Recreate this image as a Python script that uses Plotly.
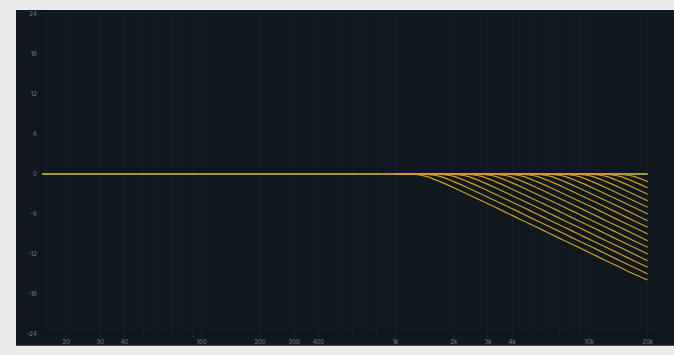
import plotly.graph_objects as go

# ---- data ----
FREQ_HZ = [1000, 1036, 1221, 1439, 1697, 2000, 2358, 2779, 3276, 3861, 4552,
           5365, 6325, 7455, 8788, 10359, 12211, 14394, 16967, 20000]

# one list per filter curve (gain in dB at FREQ_HZ), from shallowest to deepest
CURVES_DB = [
    [0, 0, 0, 0, 0, 0, 0, 0, 0, 0, 0, 0, 0, 0, 0, 0, 0, -0.04, -0.35, -1.15],
    [0, 0, 0, 0, 0, 0, 0, 0, 0, 0, 0, 0, 0, 0, 0, 0, -0.04, -0.35, -1.15, -2.07],
    [0, 0, 0, 0, 0, 0, 0, 0, 0, 0, 0, 0, 0, 0, 0, -0.04, -0.35, -1.15, -2.07, -3.03],
    [0, 0, 0, 0, 0, 0, 0, 0, 0, 0, 0, 0, 0, 0, -0.04, -0.35, -1.15, -2.07, -3.03, -4],
    [0, 0, 0, 0, 0, 0, 0, 0, 0, 0, 0, 0, 0, -0.04, -0.35, -1.15, -2.07, -3.03, -4, -5],
    [0, 0, 0, 0, 0, 0, 0, 0, 0, 0, 0, 0, -0.04, -0.35, -1.15, -2.07, -3.03, -4, -5, -6],
    [0, 0, 0, 0, 0, 0, 0, 0, 0, 0, 0, -0.04, -0.35, -1.15, -2.07, -3.03, -4, -5, -6, -7],
    [0, 0, 0, 0, 0, 0, 0, 0, 0, 0, -0.04, -0.35, -1.15, -2.07, -3.03, -4, -5, -6, -7, -8],
    [0, 0, 0, 0, 0, 0, 0, 0, 0, -0.04, -0.35, -1.15, -2.07, -3.03, -4, -5, -6, -7, -8, -9],
    [0, 0, 0, 0, 0, 0, 0, 0, -0.04, -0.35, -1.15, -2.07, -3.03, -4, -5, -6, -7, -8, -9, -10],
    [0, 0, 0, 0, 0, 0, 0, -0.04, -0.35, -1.15, -2.07, -3.03, -4, -5, -6, -7, -8, -9, -10, -11],
    [0, 0, 0, 0, 0, 0, -0.04, -0.35, -1.15, -2.07, -3.03, -4, -5, -6, -7, -8, -9, -10, -11, -12],
    [0, 0, 0, 0, 0, -0.04, -0.35, -1.15, -2.07, -3.03, -4, -5, -6, -7, -8, -9, -10, -11, -12, -13],
    [0, 0, 0, 0, -0.04, -0.35, -1.15, -2.07, -3.03, -4, -5, -6, -7, -8, -9, -10, -11, -12, -13, -14],
    [0, 0, 0, -0.04, -0.35, -1.15, -2.07, -3.03, -4, -5, -6, -7, -8, -9, -10, -11, -12, -13, -14, -15],
    [0, 0, 0, -0.35, -1.15, -2.07, -3.03, -4, -5, -6, -7, -8, -9, -10, -11, -12, -13, -14, -15, -15.9],
]

FLAT_FREQ_HZ = [15, 20000]
FLAT_DB = [0, 0]

X_TICK_VALS = [20, 30, 40, 100, 200, 300, 400, 1000, 2000, 3000, 4000, 10000, 20000]
X_TICK_TEXT = ["20", "30", "40", "100", "200", "300", "400", "1k", "2k", "3k", "4k", "10k", "20k"]
Y_TICK_VALS = [24, 18, 12, 6, 0, -6, -12, -18, -24]
Y_TICK_TEXT = ["24", "18", "12", "6", "0", "-6", "-12", "-18", "-24"]

# ---- styling ----
PANEL = "#10181f"
FLAT_COLOR = "#a09c2e"
CURVE_COLOR = "#d49d22"
LABEL_COLOR = "#767c84"
FONT = "Inter"

fig = go.Figure()

fig.add_trace(go.Scatter(
    x=FLAT_FREQ_HZ, y=FLAT_DB, mode="lines",
    line=dict(color=FLAT_COLOR, width=2), hoverinfo="skip", showlegend=False))

for vals in CURVES_DB:
    fig.add_trace(go.Scatter(
        x=FREQ_HZ, y=vals, mode="lines",
        line=dict(color=CURVE_COLOR, width=1.2, shape="spline", smoothing=0.8),
        hoverinfo="skip", showlegend=False))

W, H = 674, 355
ML, MR, MT, MB = 42, 11, 10, 17
pw, ph = W - ML - MR, H - MT - MB

def px_to_paper_x(px):
    return (px - ML) / pw

def px_to_paper_y(py):
    return (H - MB - py) / ph

fig.add_shape(type="rect", xref="paper", yref="paper",
              x0=px_to_paper_x(16), x1=px_to_paper_x(W + 2),
              y0=px_to_paper_y(350), y1=px_to_paper_y(6),
              fillcolor=PANEL, line=dict(width=0), layer="below")

fig.update_layout(
    width=W, height=H,
    margin=dict(l=ML, r=MR, t=MT, b=MB, pad=0),
    paper_bgcolor="#ebebeb",
    plot_bgcolor=PANEL,
    font=dict(family=FONT, size=6, color=LABEL_COLOR),
    showlegend=False,
)

fig.update_xaxes(
    type="log", range=[1.1761, 4.3802],
    tickvals=X_TICK_VALS, ticktext=X_TICK_TEXT,
    tickfont=dict(size=6, color=LABEL_COLOR, family=FONT),
    showgrid=True, gridcolor="#151e26", gridwidth=1,
    minor=dict(tickvals=[50, 60, 70, 80, 90, 500, 600, 700, 800, 900,
                         5000, 6000, 7000, 8000, 9000],
               showgrid=True, gridcolor="#141c24", gridwidth=1,
               ticks="outside", ticklen=2, tickcolor="#2a333c"),
    ticks="outside", ticklen=2, tickcolor="#2a333c",
    showline=True, linecolor="#0a0f14", linewidth=1,
    zeroline=False, fixedrange=True,
)

fig.update_yaxes(
    range=[-24, 24],
    tickvals=Y_TICK_VALS, ticktext=Y_TICK_TEXT,
    tickfont=dict(size=6, color=LABEL_COLOR, family=FONT),
    showgrid=False, zeroline=False,
    showline=True, linecolor="#0a0f14", linewidth=1,
    ticks="", ticklabelstandoff=3, fixedrange=True,
)

fig.write_html("out.html")
